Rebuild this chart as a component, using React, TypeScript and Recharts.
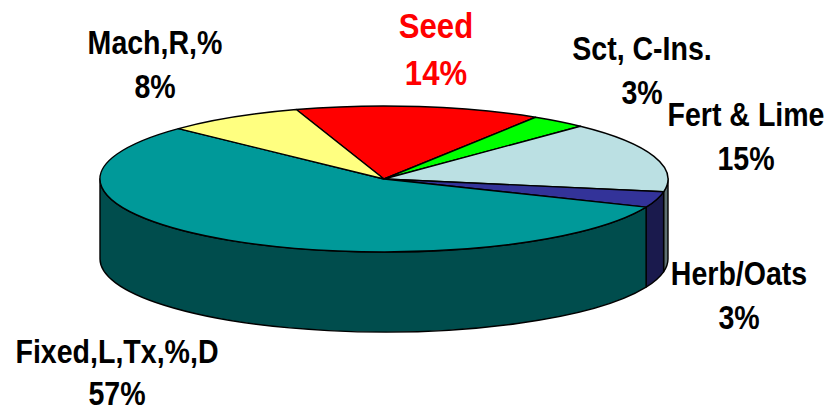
import { PieChart, Pie } from "recharts"

const categories = ["Seed", "Sct, C-Ins.", "Fert & Lime", "Herb/Oats", "Fixed,L,Tx,%,D", "Mach,R,%"]
const values = [14, 3.2, 15.7, 3.5, 56, 7.9]
const percentLabels = ["14%", "3%", "15%", "3%", "57%", "8%"]

const topColors = ["#ff0000", "#00ff00", "#bbe0e3", "#333399", "#009999", "#ffff80"]
const wallColors = ["#800000", "#008000", "#5e7072", "#1a1a4d", "#004d4d", "#808040"]
const labelColors = ["#ff0000", "#000000", "#000000", "#000000", "#000000", "#000000"]

// label centre x, first baseline y, gap to second line
const labelPos = [
  [436, 38, 47],
  [642, 60, 44],
  [746, 126, 44],
  [739, 285, 44],
  [117, 363, 42.5],
  [155, 54, 44],
]

const data = categories.map((name, i) => ({ name, value: values[i] }))

const RAD = Math.PI / 180
const SQUASH = 73 / 284 // top ellipse height / width
const DEPTH = 80

const pt = (cx: number, cy: number, r: number, a: number, dy = 0) =>
  `${(cx + r * Math.cos(a * RAD)).toFixed(2)} ${(cy - r * SQUASH * Math.sin(a * RAD) + dy).toFixed(2)}`

// flat elliptical slice
function TopSlice(props: any) {
  const { cx, cy, outerRadius: r, startAngle, endAngle, index } = props
  const large = Math.abs(startAngle - endAngle) > 180 ? 1 : 0
  const d = `M ${cx} ${cy} L ${pt(cx, cy, r, startAngle)} A ${r} ${r * SQUASH} 0 ${large} 1 ${pt(cx, cy, r, endAngle)} Z`
  return <path d={d} fill={topColors[index]} stroke="#000" strokeWidth={1.4} strokeLinejoin="round" />
}

// only the front half of the rim shows
function WallSlice(props: any) {
  const { cx, cy, outerRadius: r, startAngle, endAngle, index } = props
  const hi = Math.min(startAngle, 0)
  const lo = Math.max(endAngle, -180)
  if (hi <= lo) return <g />
  const ry = r * SQUASH
  const d =
    `M ${pt(cx, cy, r, hi)} A ${r} ${ry} 0 0 1 ${pt(cx, cy, r, lo)} ` +
    `L ${pt(cx, cy, r, lo, DEPTH)} A ${r} ${ry} 0 0 0 ${pt(cx, cy, r, hi, DEPTH)} Z`
  return <path d={d} fill={wallColors[index]} stroke="#000" strokeWidth={1.4} strokeLinejoin="round" />
}

function SliceLabel(props: any) {
  const { index } = props
  const [x, y, gap] = labelPos[index]
  const isSeed = index === 0
  const style = {
    fontFamily: "'Liberation Sans', Arial, sans-serif",
    fontWeight: 700,
    fontSize: isSeed ? 36 : 34,
    fill: labelColors[index],
  }
  return (
    <g transform={`translate(${x} ${y}) scale(${isSeed ? 0.865 : 0.84} 1)`}>
      <text x={0} y={0} textAnchor="middle" style={style}>
        {categories[index]}
      </text>
      <text x={0} y={gap} textAnchor="middle" style={style}>
        {percentLabels[index]}
      </text>
    </g>
  )
}

export default function App() {
  return (
    <div style={{ position: "absolute", left: 0, top: 0, width: 832, height: 413, background: "#fff" }}>
      <PieChart width={832} height={413} margin={{ top: 0, right: 0, bottom: 0, left: 0 }}>
        <Pie
          data={data}
          dataKey="value"
          cx={384}
          cy={179}
          innerRadius={0}
          outerRadius={284}
          startAngle={108}
          endAngle={-252}
          stroke="none"
          shape={WallSlice}
          label={false}
          labelLine={false}
          isAnimationActive={false}
        />
        <Pie
          data={data}
          dataKey="value"
          cx={384}
          cy={179}
          innerRadius={0}
          outerRadius={284}
          startAngle={108}
          endAngle={-252}
          stroke="none"
          shape={TopSlice}
          label={SliceLabel}
          labelLine={false}
          isAnimationActive={false}
        />
      </PieChart>
    </div>
  )
}
